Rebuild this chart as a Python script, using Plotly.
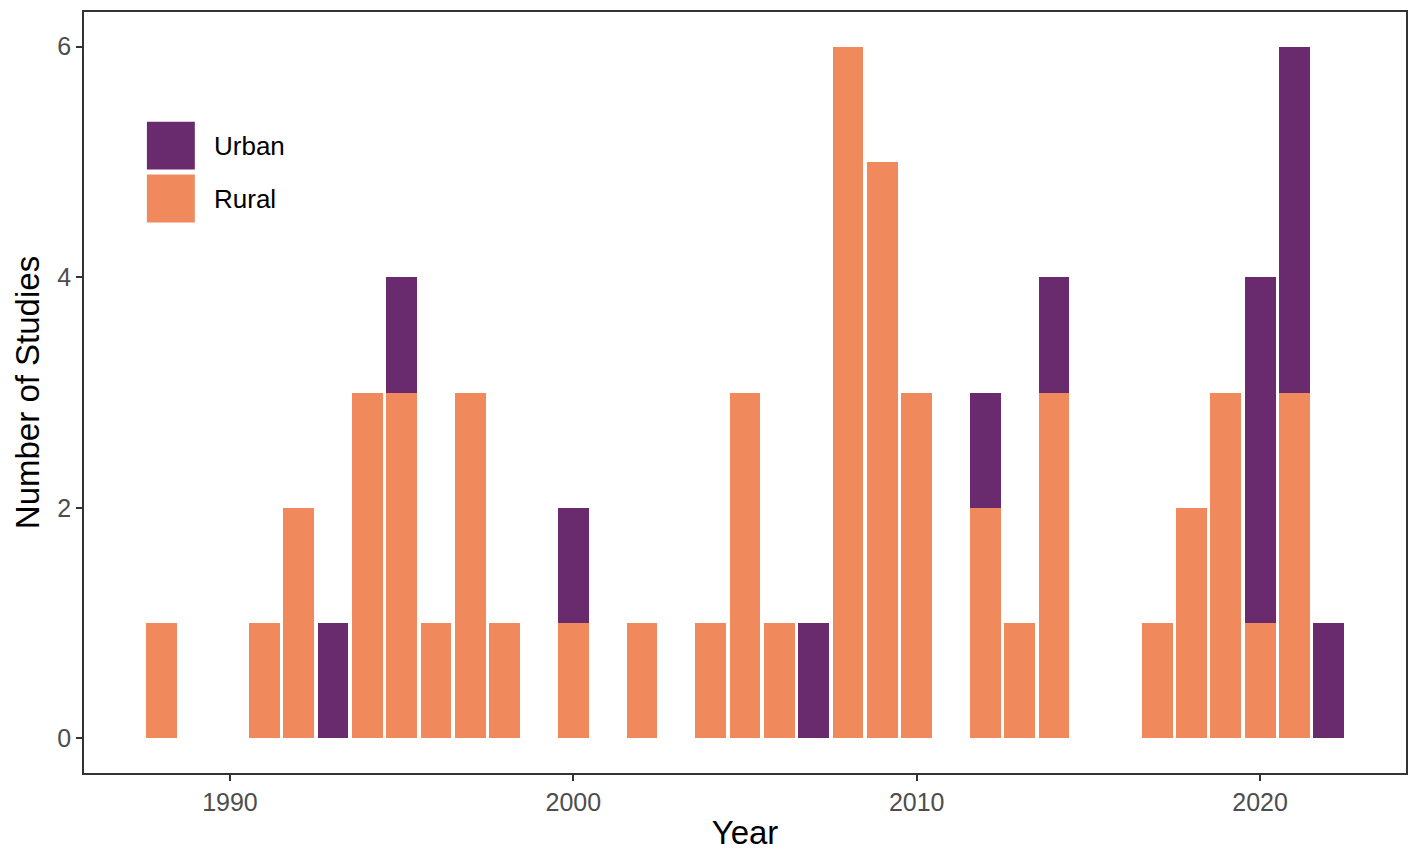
import plotly.graph_objects as go

# studies per year, split by setting
years = [1988, 1991, 1992, 1993, 1994, 1995, 1996, 1997, 1998, 2000, 2002,
         2004, 2005, 2006, 2007, 2008, 2009, 2010, 2012, 2013, 2014,
         2017, 2018, 2019, 2020, 2021, 2022]
rural = [1, 1, 2, 0, 3, 3, 1, 3, 1, 1, 1,
         1, 3, 1, 0, 6, 5, 3, 2, 1, 3,
         1, 2, 3, 1, 3, 0]
urban = [0, 0, 0, 1, 0, 1, 0, 0, 0, 1, 0,
         0, 0, 0, 1, 0, 0, 0, 1, 0, 1,
         0, 0, 0, 3, 3, 1]

urban_color = '#692B6E'
rural_color = '#F08A5D'
tick_color = '#4D4D4D'

fig = go.Figure()
fig.add_trace(go.Bar(x=years, y=rural, name='Rural', width=0.9,
                     marker=dict(color=rural_color, line=dict(width=0))))
fig.add_trace(go.Bar(x=years, y=urban, name='Urban', width=0.9,
                     marker=dict(color=urban_color, line=dict(width=0))))

# page body has an 8px margin, so the figure is a bit smaller than the window
fig.update_layout(
    barmode='stack',
    width=1402, height=844,
    margin=dict(l=76, r=2, t=2, b=79),
    plot_bgcolor='white', paper_bgcolor='white',
    showlegend=False,
    font=dict(family='Arial, Liberation Sans, sans-serif', color='black'),
)

fig.update_xaxes(
    range=[1985.75, 2024.25], tickvals=[1990, 2000, 2010, 2020],
    showgrid=False, zeroline=False,
    showline=True, linecolor='#333333', linewidth=1.5, mirror=True,
    ticks='outside', ticklen=6, tickwidth=1.5, tickcolor='#333333',
    tickfont=dict(size=25, color=tick_color),
    title=dict(text='Year', font=dict(size=33, color='black'), standoff=6),
)
fig.update_yaxes(
    range=[-0.3, 6.3], tickvals=[0, 2, 4, 6],
    showgrid=False, zeroline=False,
    showline=True, linecolor='#333333', linewidth=1.5, mirror=True,
    ticks='outside', ticklen=6, tickwidth=1.5, tickcolor='#333333',
    tickfont=dict(size=25, color=tick_color),
    title=dict(text='Number of Studies', font=dict(size=33, color='black'), standoff=8),
)

# legend drawn inside the panel, top left, with large keys like the original
W, H = 1408 - 84, 773 - 10
def px(x, y):
    return (x - 84) / W, 1 - (y - 10) / H

for name, color, top in [('Urban', urban_color, 120), ('Rural', rural_color, 173)]:
    x0, y0 = px(147, top)
    x1, y1 = px(195, top + 48)
    fig.add_shape(type='rect', xref='paper', yref='paper',
                  x0=x0, x1=x1, y0=y1, y1=y0,
                  fillcolor=color, line=dict(width=0))
    tx, ty = px(212, top + 24)
    fig.add_annotation(xref='paper', yref='paper', x=tx, y=ty, text=name,
                       showarrow=False, xanchor='left', yanchor='middle',
                       font=dict(size=26, color='black'))

fig.write_html("out.html")
